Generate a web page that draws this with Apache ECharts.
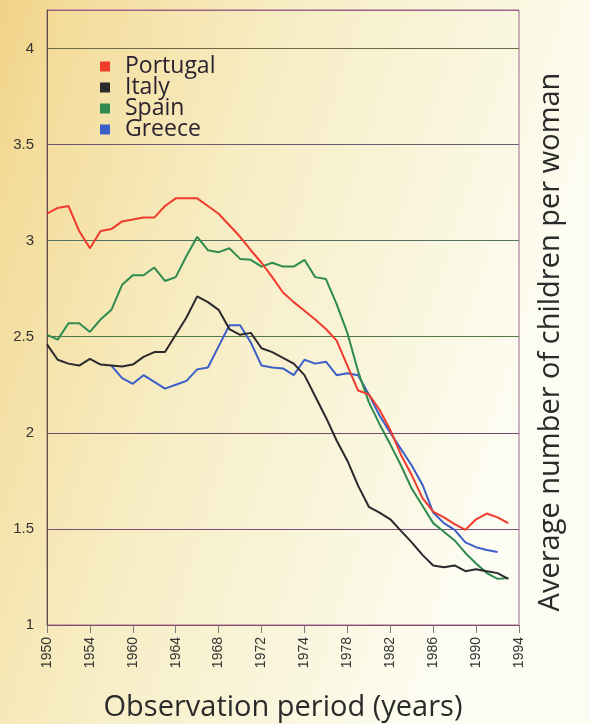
<!DOCTYPE html>
<html>
<head>
<meta charset="utf-8">
<script src="https://cdn.jsdelivr.net/npm/echarts@6/dist/echarts.min.js"></script>
<style>
  html, body { margin: 0; padding: 0; }
  #chart { width: 590px; height: 724px; }
</style>
</head>
<body>
<div id="chart"></div>
<script>
// years on the axis, 1950 .. 1993 (one value per year)
const years = []
for (let y = 1950; y <= 1993; y++) years.push(y)

// printed tick labels, as they appear under the axis
const tickLabels = ['1950', '1954', '1960', '1964', '1968', '1972', '1974', '1978', '1982', '1986', '1990', '1994']

const legendNames = ['Portugal', 'Italy', 'Spain', 'Greece']

// average number of children per woman
const portugal = [
  3.14, 3.17, 3.18, 3.05, 2.96, 3.05, 3.06, 3.10, 3.11, 3.12,
  3.12, 3.18, 3.22, 3.22, 3.22, 3.18, 3.14, 3.08, 3.02, 2.95,
  2.885, 2.81, 2.73, 2.68, 2.635, 2.59, 2.54, 2.48, 2.35, 2.22,
  2.20, 2.12, 2.015, 1.885, 1.78, 1.66, 1.59, 1.56, 1.525, 1.495,
  1.55, 1.58, 1.56, 1.53
]
const italy = [
  2.46, 2.38, 2.36, 2.35, 2.385, 2.355, 2.35, 2.345, 2.355, 2.395,
  2.42, 2.42, 2.51, 2.60, 2.71, 2.68, 2.64, 2.54, 2.51, 2.52,
  2.44, 2.42, 2.39, 2.36, 2.30, 2.19, 2.08, 1.96, 1.855, 1.725,
  1.615, 1.585, 1.55, 1.49, 1.43, 1.365, 1.31, 1.30, 1.31, 1.28,
  1.29, 1.28, 1.27, 1.24
]
const spain = [
  2.51, 2.485, 2.57, 2.57, 2.525, 2.59, 2.64, 2.77, 2.82, 2.82,
  2.86, 2.79, 2.81, 2.92, 3.02, 2.95, 2.94, 2.96, 2.905, 2.90,
  2.865, 2.885, 2.865, 2.865, 2.90, 2.81, 2.80, 2.67, 2.52, 2.32,
  2.16, 2.045, 1.94, 1.83, 1.71, 1.62, 1.53, 1.485, 1.44, 1.375,
  1.32, 1.27, 1.24, 1.245
]
const greece = [
  null, null, null, null, null, null, 2.35, 2.285, 2.255, 2.30,
  2.265, 2.23, 2.25, 2.27, 2.33, 2.34, 2.45, 2.56, 2.56, 2.47,
  2.35, 2.34, 2.335, 2.30, 2.38, 2.36, 2.37, 2.30, 2.31, 2.30,
  2.20, 2.09, 2.00, 1.915, 1.83, 1.73, 1.585, 1.53, 1.495, 1.43,
  1.405, 1.39, 1.38, null
]

const colors = ['#f03a2c', '#2b292e', '#2f8a4e', '#3b5fc6']

function pairs(values) {
  return years.map(function(y, i) { return [y, values[i]] })
}

function makeSeries(name, values, color) {
  return {
    name: name,
    type: 'line',
    data: pairs(values),
    symbol: 'none',
    smooth: false,
    connectNulls: false,
    lineStyle: { color: color, width: 2 },
    itemStyle: { color: color }
  }
}

const chart = echarts.init(document.getElementById('chart'))
chart.setOption({
  animation: false,
  backgroundColor: {
    type: 'linear', x: 0, y: 0, x2: 1, y2: 0.25,
    colorStops: [
      { offset: 0, color: '#f1d286' },
      { offset: 0.12, color: '#f4dd9c' },
      { offset: 0.45, color: '#f7edc4' },
      { offset: 0.8, color: '#faf7e0' },
      { offset: 1, color: '#fdfcf2' }
    ]
  },
  grid: {
    left: 47,
    right: 71,
    top: 10,
    bottom: 99,
    // keep the plot box fixed, the axis name may sit near the edge
    outerBoundsMode: 'none',
    show: true,
    borderColor: '#9a6a8a',
    borderWidth: 1,
    backgroundColor: 'transparent'
  },
  legend: {
    data: legendNames,
    orient: 'vertical',
    left: 100,
    top: 55,
    padding: 0,
    itemGap: -2,
    itemWidth: 10,
    itemHeight: 10,
    icon: 'rect',
    textStyle: {
      fontFamily: 'Open Sans',
      fontSize: 23,
      lineHeight: 21,
      color: '#2a2230',
      padding: [0, 0, 0, 10]
    }
  },
  xAxis: {
    type: 'value',
    min: 1950,
    max: 1994,
    interval: 4,
    name: 'Observation period (years)',
    nameLocation: 'middle',
    nameGap: 68,
    nameTextStyle: { fontFamily: 'Open Sans', fontSize: 29, color: '#2a2a2a' },
    axisLine: { show: true, lineStyle: { color: '#8a4a70', width: 1 } },
    axisTick: { show: true, length: 8, lineStyle: { color: '#7a7a7a' } },
    splitLine: { show: false },
    axisLabel: {
      rotate: 90,
      margin: 12,
      fontFamily: 'Liberation Sans',
      fontSize: 14,
      color: '#333',
      formatter: function(v) {
        const i = Math.round((v - 1950) / 4)
        return tickLabels[i] || ''
      }
    }
  },
  yAxis: {
    type: 'value',
    min: 1,
    max: 4.2,
    interval: 0.5,
    axisLine: { show: true, lineStyle: { color: '#5b5040', width: 1 } },
    axisTick: { show: false },
    axisLabel: {
      margin: 13,
      fontFamily: 'Liberation Sans',
      fontSize: 15,
      color: '#333',
      formatter: function(v) { return v > 4.05 ? '' : String(v) }
    },
    splitLine: {
      show: true,
      lineStyle: {
        width: 1,
        color: ['#7a4a6a', '#7a4f7a', '#6e4a64', '#4f7a45', '#557060', '#6e5a70', '#6e6a45', '#a0608a']
      }
    }
  },
  graphic: [{
    type: 'text',
    x: 551,
    y: 342,
    rotation: Math.PI / 2,
    style: {
      text: 'Average number of children per woman',
      font: '29px "Open Sans"',
      fill: '#2a2a2a',
      align: 'center',
      verticalAlign: 'middle'
    }
  }],
  series: [
    makeSeries('Greece', greece, colors[3]),
    makeSeries('Spain', spain, colors[2]),
    makeSeries('Portugal', portugal, colors[0]),
    makeSeries('Italy', italy, colors[1])
  ]
})
</script>
</body>
</html>
